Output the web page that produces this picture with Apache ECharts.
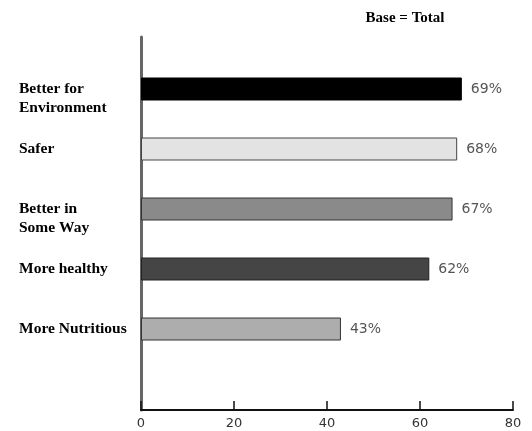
<!DOCTYPE html>
<html><head><meta charset="utf-8">
<script src="https://cdn.jsdelivr.net/npm/echarts@6/dist/echarts.min.js"></script>
<style>html,body{margin:0;padding:0;background:#fff}#c{width:532px;height:431px}</style>
</head><body><div id="c"></div>
<script>
const categories = ['\nBetter for\nEnvironment', 'Safer', '\nBetter in\nSome Way', 'More healthy', 'More Nutritious'];
const values = [69, 68, 67, 62, 43];
const barColors = ['#000000', '#e3e3e3', '#8a8a8a', '#454545', '#adadad'];
const borderColors = ['#000000', '#444444', '#333333', '#222222', '#333333'];
const xTicks = [0, 20, 40, 60, 80];
const titleText = 'Base = Total';

const chart = echarts.init(document.getElementById('c'), null, {renderer: 'canvas'});
chart.setOption({
  animation: false,
  backgroundColor: '#fff',
  title: {
    text: titleText, left: 400, top: 6, textAlign: 'center',
    textStyle: {fontFamily: 'Liberation Serif', fontWeight: 'bold', fontSize: 15, color: '#000'}
  },
  grid: [
    {left: 141, right: 19, top: 59, bottom: 72},
    {left: 141, right: 19, top: 37, bottom: 21}
  ],
  xAxis: [
    {gridIndex: 0, type: 'value', min: xTicks[0], max: xTicks[xTicks.length - 1], interval: 20, show: false},
    {gridIndex: 1, type: 'value', min: xTicks[0], max: xTicks[xTicks.length - 1], interval: 20,
     axisLine: {show: true, lineStyle: {color: '#111', width: 2}},
     axisTick: {show: true, inside: true, length: 9, lineStyle: {color: '#111', width: 1.5}},
     splitLine: {show: false},
     axisLabel: {margin: 7, color: '#333', fontFamily: 'DejaVu Sans', fontSize: 13, showMaxLabel: true}
    }
  ],
  yAxis: [
    {gridIndex: 0, type: 'category', data: categories, inverse: true,
     axisLine: {show: false}, axisTick: {show: false},
     axisLabel: {margin: 122, align: 'left', color: '#000', fontFamily: 'Liberation Serif',
                 fontWeight: 'bold', fontSize: 15.5, lineHeight: 19}
    },
    {gridIndex: 1, type: 'value', min: 0, max: 1,
     axisLine: {show: true, lineStyle: {color: '#666', width: 3}},
     axisTick: {show: false}, axisLabel: {show: false}, splitLine: {show: false}
    }
  ],
  series: [{
    type: 'bar', xAxisIndex: 0, yAxisIndex: 0, barWidth: 23,
    data: values.map((v, i) => ({
      value: v,
      itemStyle: {color: barColors[i], borderColor: borderColors[i], borderWidth: 1}
    })),
    label: {
      show: true, position: 'right', distance: 9, formatter: '{c}%',
      color: '#555', fontFamily: 'DejaVu Sans', fontSize: 14
    }
  }]
});
</script></body></html>
